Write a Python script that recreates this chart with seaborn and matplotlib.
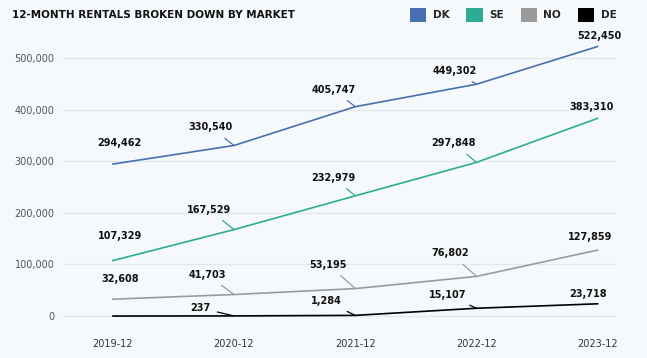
import pandas as pd
import numpy as np
import matplotlib.pyplot as plt
import seaborn as sns
from matplotlib.patches import Patch
from matplotlib.ticker import FuncFormatter

# data
periods = ['2019-12', '2020-12', '2021-12', '2022-12', '2023-12']
markets = ['DK', 'SE', 'NO', 'DE']
dk = [294462, 330540, 405747, 449302, 522450]
se = [107329, 167529, 232979, 297848, 383310]
no = [32608, 41703, 53195, 76802, 127859]
de = [0, 237, 1284, 15107, 23718]

colors = {'DK': '#4a6fb0', 'SE': '#2eab94', 'NO': '#9b9b9b', 'DE': '#000000'}
BG = '#f5f9fc'

df = pd.DataFrame({'period': periods * 4,
                   'market': np.repeat(markets, len(periods)),
                   'rentals': dk + se + no + de})
df['x'] = np.tile(np.arange(len(periods)), 4)

sns.set_style('white')
plt.rcParams['font.family'] = ['DejaVu Sans']

fig = plt.figure(figsize=(6.47, 3.58), dpi=100, facecolor=BG)
ax = fig.add_axes([63 / 647, 0.1028, (616 - 63) / 647, 0.7927], facecolor=BG)

sns.lineplot(data=df, x='x', y='rentals', hue='market', palette=colors,
             linewidth=1.2, ax=ax, legend=False)

ax.set_xlim(-0.41, 4.15)
ax.set_ylim(-10000, 540000)
ax.set_yticks(range(0, 500001, 100000))
ax.yaxis.set_major_formatter(FuncFormatter(lambda v, p: f'{int(v):,}'))
ax.set_xticks(range(len(periods)))
ax.set_xticklabels(periods)
ax.tick_params(axis='y', length=0, pad=6, labelsize=7, labelcolor='#555555')
ax.tick_params(axis='x', length=0, pad=13, labelsize=7, labelcolor='#333333')
ax.set_xlabel('')
ax.set_ylabel('')
ax.grid(axis='y', color='#e4e8ec', linewidth=0.9)
ax.set_axisbelow(True)
for s in ax.spines.values():
    s.set_visible(False)

# label offsets in pixels (dx, dy) relative to each point
offsets = {
    'DK': [(7, 21), (-23, 18), (-22, 17), (-22, 13), (2, 10)],
    'SE': [(7, 25), (-25, 20), (-22, 18), (-23, 19), (-6, 11)],
    'NO': [(7, 20), (-27, 20), (-27, 24), (-26, 23), (-8, 13)],
    'DE': [(7, 20), (-34, 8), (-29, 14), (-29, 13), (-10, 10)],
}
series = {'DK': dk, 'SE': se, 'NO': no, 'DE': de}
for m in markets:
    for i, v in enumerate(series[m]):
        if v == 0:
            continue
        dx, dy = offsets[m][i]
        lead = 0 < i < len(periods) - 1
        ax.annotate(f'{v:,}', xy=(i, v), xytext=(dx * 0.72, dy * 0.72),
                    textcoords='offset points', ha='center', va='center',
                    fontsize=7, fontweight='bold', color='#111111',
                    arrowprops=dict(arrowstyle='-', color=colors[m], lw=0.9,
                                    shrinkA=3, shrinkB=0) if lead else None)

fig.text(12 / 647, 1 - 15 / 358, '12-MONTH RENTALS BROKEN DOWN BY MARKET',
         fontsize=7.5, fontweight='bold', color='#111111', va='center')

handles = [Patch(facecolor=colors[m], edgecolor='none', label=m) for m in markets]
leg = fig.legend(handles=handles, loc='center right', ncol=4, frameon=False,
                 bbox_to_anchor=(626 / 647, 1 - 15 / 358), handlelength=1.55,
                 handleheight=1.55, handletextpad=0.6, columnspacing=1.6,
                 prop={'size': 7.6, 'weight': 'bold'})

fig.savefig('out.png', dpi=100, facecolor=BG)
